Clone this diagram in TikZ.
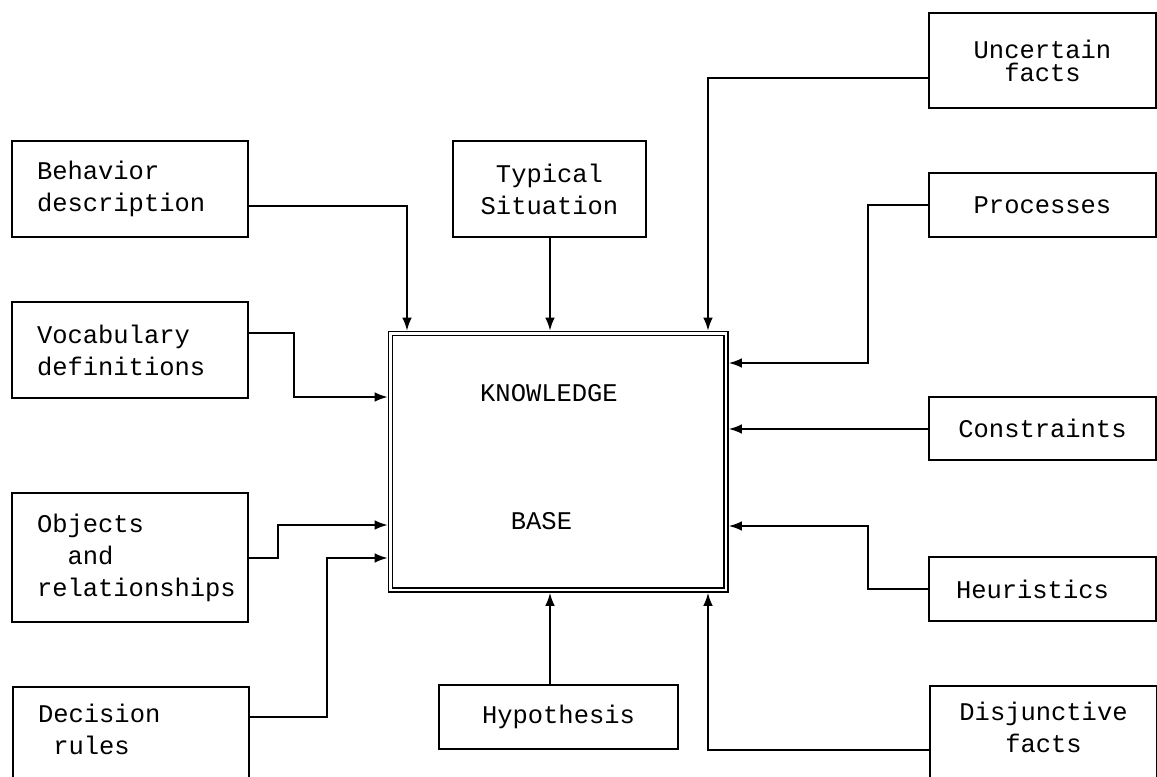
\documentclass[tikz,border=0pt]{standalone}
\usepackage{fontspec}
\setmonofont{Liberation Mono}
\usetikzlibrary{arrows.meta}

\tikzset{
  blk/.style={draw, line width=1.2pt, font=\ttfamily\fontsize{14.5}{18.2}\selectfont},
  lblk/.style={blk, align=left, text width=3.72cm, inner xsep=0.5cm, minimum width=4.72cm},
  rblk/.style={blk, align=center},
  kbtxt/.style={font=\ttfamily\fontsize{14.5}{18.2}\selectfont},
  conn/.style={line width=1.1pt, -{Latex[length=7.5pt,width=5.5pt]}}
}

\begin{document}
\begin{tikzpicture}[x=0.02cm, y=-0.02cm]
\clip (0,0) rectangle (1157,777);
\fill[white] (0,0) rectangle (1157,777);

% knowledge base in the middle
\node[draw, double, line width=0.9pt, double distance=1.3pt, outer sep=1.55pt,
      inner sep=0pt, minimum width=6.71cm, minimum height=5.13cm] (kb) at (558.25,461.75) {};
\node[kbtxt] (kn) at (549,393.5) {KNOWLEDGE};
\node[kbtxt] (base) at (541.5,521) {BASE};

% left column
\node[lblk, minimum height=1.92cm] (beh) at (130,189) {Behavior\\description};
\node[lblk, minimum height=1.92cm] (voc) at (130,350) {Vocabulary\\definitions};
\node[lblk, minimum height=2.58cm] (obj) at (130,557.5) {Objects\\\phantom{xx}and\\relationships};
\node[lblk, anchor=north west, inner ysep=0.3cm, text height=0.4cm, text depth=2cm] (dec) at (12,686) {Decision\\\phantom{x}rules};

% top and bottom
\node[rblk, minimum width=3.86cm, minimum height=1.92cm] (typ) at (549.5,189) {Typical\\Situation};
\node[rblk, minimum width=4.78cm, minimum height=1.28cm] (hyp) at (558.5,717) {Hypothesis};

% right column
\node[rblk, minimum width=4.54cm, minimum height=1.9cm, font=\ttfamily\fontsize{14.5}{13}\selectfont] (unc) at (1042.5,60.5) {Uncertain\\facts};
\node[rblk, minimum width=4.54cm, minimum height=1.28cm] (pro) at (1042.5,205) {Processes};
\node[rblk, minimum width=4.54cm, minimum height=1.26cm] (con) at (1042.5,428.5) {Constraints};
\node[lblk, text width=3.46cm, inner xsep=0.54cm, minimum width=4.54cm, minimum height=1.28cm] (heu) at (1042.5,589) {Heuristics};
\node[rblk, anchor=north west, text width=4.34cm, inner xsep=0.1cm, inner ysep=0.28cm, text height=0.4cm, text depth=2cm] (dis) at (929,685) {Disjunctive\\facts};

% connectors
\draw[conn] (beh.east |- 0,206) -| (407,0 |- kb.north);
\draw[conn] (550,0 |- typ.south) -- (550,0 |- kb.north);
\draw[conn] (unc.west |- 0,78) -| (708,0 |- kb.north);
\draw[conn] (pro.west) -| (868,363) -- (kb.east |- 0,363);
\draw[conn] (con.west |- 0,429) -- (kb.east |- 0,429);
\draw[conn] (heu.west) -| (868,526) -- (kb.east |- 0,526);
\draw[conn] (dis.west |- 0,750) -| (708,0 |- kb.south);
\draw[conn] (550,0 |- hyp.north) -- (550,0 |- kb.south);
\draw[conn] (voc.east |- 0,333) -| (294,397) -- (kb.west |- 0,397);
\draw[conn] (obj.east |- 0,558) -| (278,525) -- (kb.west |- 0,525);
\draw[conn] (dec.east |- 0,717) -| (327,558) -- (kb.west |- 0,558);
\end{tikzpicture}
\end{document}
